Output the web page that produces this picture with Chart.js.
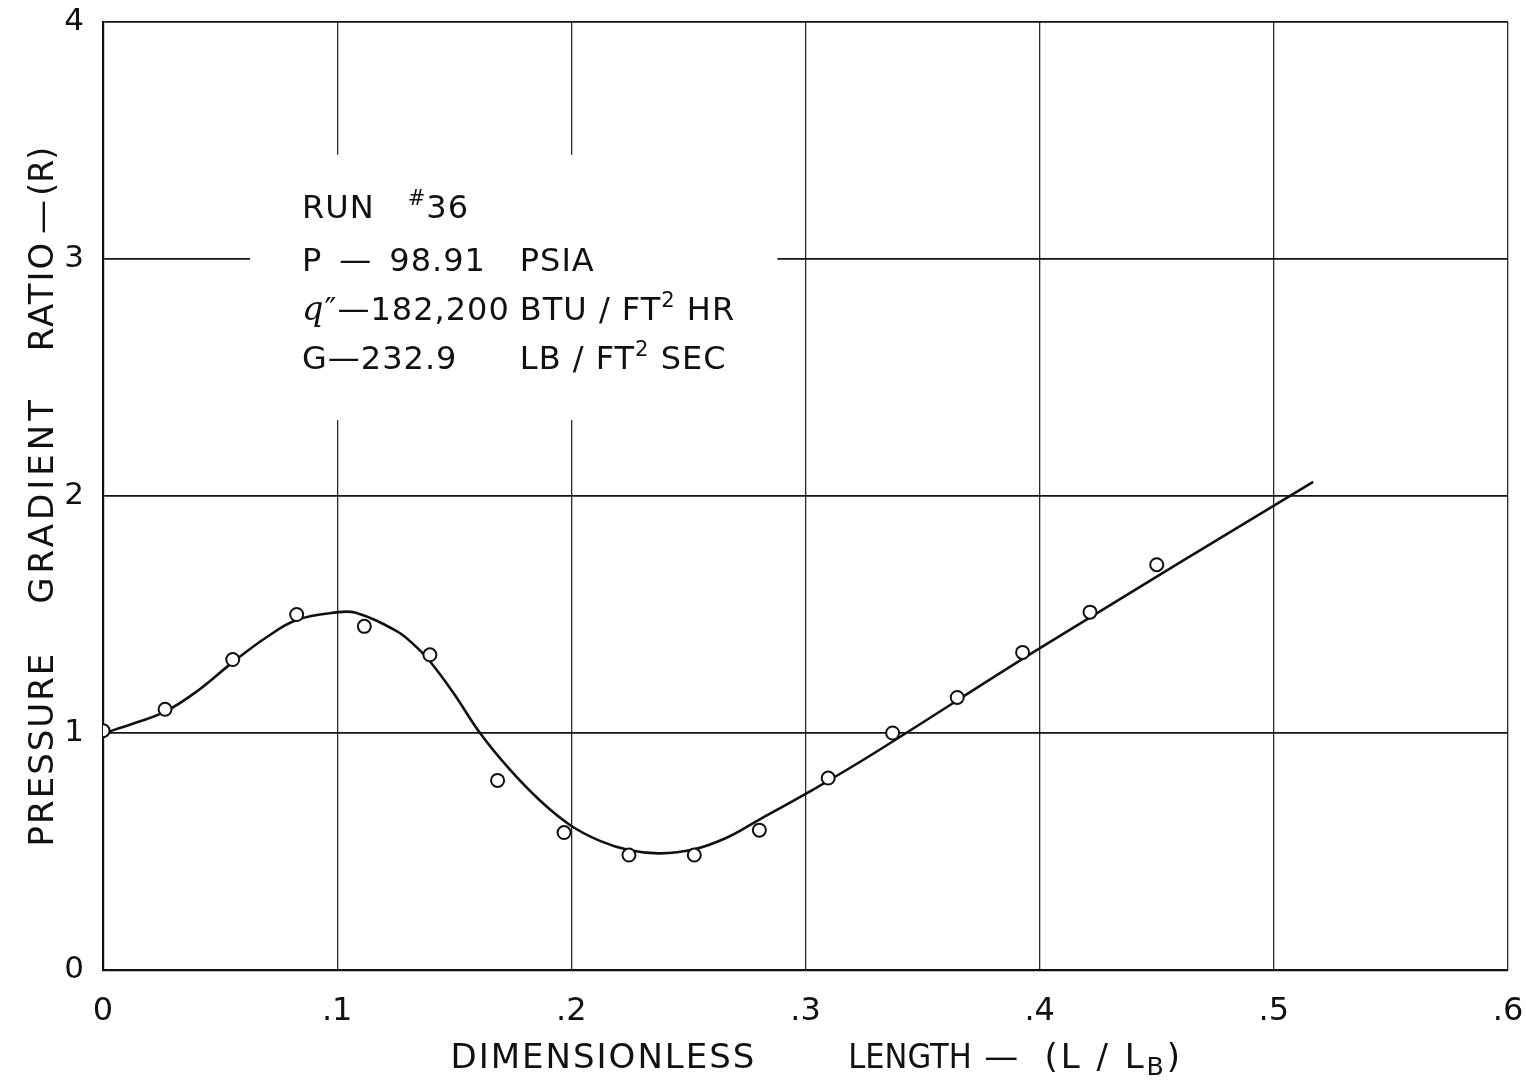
<!DOCTYPE html>
<html>
<head>
<meta charset="utf-8">
<script src="https://cdn.jsdelivr.net/npm/chart.js@4.4.1/dist/chart.umd.min.js"></script>
<style>
  html, body { margin: 0; padding: 0; background: #ffffff; }
  #wrap { width: 1526px; height: 1083px; }
  canvas { display: block; }
</style>
</head>
<body>
<div id="wrap"><canvas id="chart" width="1526" height="1083"></canvas></div>
<script>
// Run #36 measurements: dimensionless length (L/LB) against pressure gradient ratio (R)
const lengthRatio   = [0, 0.0265, 0.0554, 0.0827, 0.1116, 0.1396, 0.1685, 0.1969, 0.2246,
                       0.2525, 0.2803, 0.3097, 0.3372, 0.3648, 0.3927, 0.4215, 0.45];
const gradientRatio = [1.01, 1.10, 1.31, 1.50, 1.45, 1.33, 0.80, 0.58, 0.485,
                       0.485, 0.59, 0.81, 1.0, 1.15, 1.34, 1.51, 1.71];

// Faired curve drawn through the measurements
const curveLength   = [0, 0.013, 0.0265, 0.04, 0.0556, 0.07, 0.0827, 0.0998, 0.108, 0.1254,
                       0.1325, 0.1394, 0.1496, 0.161, 0.1738, 0.1866, 0.1994, 0.2122, 0.225,
                       0.2378, 0.252, 0.2663, 0.2805, 0.3004, 0.3277, 0.4008, 0.5168];
const curveGradient = [0.998, 1.04, 1.09, 1.175, 1.30, 1.405, 1.477, 1.509, 1.507, 1.43,
                       1.375, 1.305, 1.17, 1.0, 0.845, 0.715, 0.612, 0.545, 0.505,
                       0.492, 0.508, 0.558, 0.636, 0.745, 0.905, 1.362, 2.06];

// Axis ticks
const xTickValues = [0, 0.1, 0.2, 0.3, 0.4, 0.5, 0.6];
const xTickLabels = ['0', '.1', '.2', '.3', '.4', '.5', '.6'];
const yTickValues = [0, 1, 2, 3, 4];
const yTickLabels = ['0', '1', '2', '3', '4'];

// Text block: [text, style] runs; style 0 normal, 1 superscript, 2 subscript, 3 script letter
const infoLeft = [
  [['RUN\u2003', 0], ['#', 1], ['36', 0]],
  [['P\u2002\u2014\u200298.91', 0]],
  [['q', 3], ['\u2033', 0], ['\u2014182,200', 0]],
  [['G\u2014232.9', 0]]
];
const infoRight = [
  [],
  [['PSIA', 0]],
  [['BTU / FT', 0], ['2', 1], [' HR', 0]],
  [['LB / FT', 0], ['2', 1], [' SEC', 0]]
];

// Axis titles, lettered word by word; each word is centred on an axis value
const xTitleWords = [
  { runs: [['DIMENSIONLESS', 0]], at: 0.2133, size: 34, spacing: 2, condensed: false },
  { runs: [['LENGTH', 0]], at: 0.3446, size: 34, spacing: 0, condensed: true },
  { runs: [['\u2014', 0]], at: 0.3836, size: 34, spacing: 0, condensed: false },
  { runs: [['(L / L', 0], ['B', 2], [')', 0]], at: 0.4310, size: 34, spacing: 3, condensed: false }
];
const yTitleWords = [
  { runs: [['PRESSURE', 0]], at: 0.928, size: 34, spacing: 2, condensed: false },
  { runs: [['GRADIENT', 0]], at: 1.975, size: 34, spacing: 4, condensed: false },
  { runs: [['RATIO', 0]], at: 2.84, size: 34, spacing: 2, condensed: false },
  { runs: [['\u2014', 0]], at: 3.177, size: 34, spacing: 0, condensed: false },
  { runs: [['(R)', 0]], at: 3.37, size: 33, spacing: 0, condensed: false }
];

const FONT = '"DejaVu Sans", "Liberation Sans", sans-serif';
const FONT_NARROW = '"DejaVu Sans Condensed", "DejaVu Sans", sans-serif';
const INK = '#111111';

// Placement of the text block, in axis units
const infoLayout = { colX: [0.085, 0.178], rowY: [3.173, 2.949, 2.743, 2.536], size: 32, spacing: 1 };
// Region of the grid kept clear around the text block, in axis units
const clearBox = { x0: 0.0628, x1: 0.288, y0: 2.32, y1: 3.44 };

function runFont(s, size, family) {
  family = family || FONT;
  if (s === 1) return (size * 0.66) + 'px ' + family;
  if (s === 2) return (size * 0.74) + 'px ' + family;
  if (s === 3) return 'italic ' + (size * 1.05) + 'px "DejaVu Serif", serif';
  return size + 'px ' + family;
}

function drawRuns(ctx, x, y, runs, size, family) {
  let cx = x;
  for (const [t, s] of runs) {
    let dy = 0;
    if (s === 1) dy = -size * 0.40;
    if (s === 2) dy = size * 0.22;
    ctx.font = runFont(s, size, family);
    ctx.fillText(t, cx, y + dy);
    cx += ctx.measureText(t).width;
  }
  return cx - x;
}

function measureRuns(ctx, runs, size, family) {
  let w = 0;
  for (const [t, s] of runs) {
    ctx.font = runFont(s, size, family);
    w += ctx.measureText(t).width;
  }
  return w;
}

function drawWord(ctx, word, centre, baseline) {
  const family = word.condensed ? FONT_NARROW : FONT;
  ctx.letterSpacing = word.spacing + 'px';
  const w = measureRuns(ctx, word.runs, word.size, family) - word.spacing;
  drawRuns(ctx, centre - w / 2, baseline, word.runs, word.size, family);
}

const gridGap = {
  id: 'gridGap',
  beforeDatasetsDraw(chart) {
    const { ctx, scales: { x, y } } = chart;
    const l = x.getPixelForValue(clearBox.x0), r = x.getPixelForValue(clearBox.x1);
    const t = y.getPixelForValue(clearBox.y1), b = y.getPixelForValue(clearBox.y0);
    ctx.save();
    ctx.fillStyle = '#ffffff';
    ctx.fillRect(l, t, r - l, b - t);
    ctx.restore();
  }
};

const textLayer = {
  id: 'textLayer',
  afterDraw(chart) {
    const { ctx, scales: { x, y } } = chart;
    ctx.save();
    ctx.fillStyle = INK;
    ctx.textBaseline = 'alphabetic';
    ctx.textAlign = 'left';
    // parameter block
    ctx.letterSpacing = infoLayout.spacing + 'px';
    infoLeft.forEach((runs, i) => {
      const by = y.getPixelForValue(infoLayout.rowY[i]);
      drawRuns(ctx, x.getPixelForValue(infoLayout.colX[0]), by, runs, infoLayout.size);
      drawRuns(ctx, x.getPixelForValue(infoLayout.colX[1]), by, infoRight[i], infoLayout.size);
    });
    // x axis title
    xTitleWords.forEach(word => drawWord(ctx, word, x.getPixelForValue(word.at), 1068));
    // y axis title, lettered upward
    ctx.save();
    ctx.translate(53, 0);
    ctx.rotate(-Math.PI / 2);
    yTitleWords.forEach(word => drawWord(ctx, word, -y.getPixelForValue(word.at), 0));
    ctx.restore();
    ctx.restore();
  }
};

new Chart(document.getElementById('chart'), {
  type: 'scatter',
  data: {
    datasets: [
      {
        label: 'Measured',
        data: lengthRatio.map((v, i) => ({ x: v, y: gradientRatio[i] })),
        showLine: false,
        pointStyle: 'circle',
        pointRadius: 6.5,
        pointBorderWidth: 2,
        pointBackgroundColor: '#ffffff',
        pointBorderColor: INK,
        order: 0
      },
      {
        label: 'Faired curve',
        data: curveLength.map((v, i) => ({ x: v, y: curveGradient[i] })),
        showLine: true,
        tension: 0.4,
        borderColor: INK,
        borderWidth: 2.6,
        pointRadius: 0,
        fill: false,
        order: 1
      }
    ]
  },
  options: {
    responsive: false,
    animation: false,
    devicePixelRatio: 1,
    layout: { padding: { top: 22, right: 18, left: 0, bottom: 0 } },
    plugins: { legend: { display: false }, tooltip: { enabled: false } },
    scales: {
      x: {
        type: 'linear',
        min: 0, max: 0.6,
        afterFit(scale) { scale.height = 113; scale.paddingLeft = 0; scale.paddingRight = 0; },
        afterBuildTicks(scale) { scale.ticks = xTickValues.map(v => ({ value: v })); },
        ticks: {
          autoSkip: false,
          maxRotation: 0,
          padding: 22,
          color: INK,
          font: { family: FONT, size: 32 },
          callback: (v, i) => xTickLabels[i]
        },
        grid: { color: '#2a2a2a', lineWidth: 1.3, drawTicks: false },
        border: { display: true, color: INK, width: 2.2 }
      },
      y: {
        type: 'linear',
        min: 0, max: 4,
        afterFit(scale) { scale.width = 103; scale.paddingTop = 0; scale.paddingBottom = 0; },
        afterBuildTicks(scale) { scale.ticks = yTickValues.map(v => ({ value: v })); },
        ticks: {
          autoSkip: false,
          padding: 19,
          color: INK,
          font: { family: FONT, size: 31 },
          callback: (v, i) => yTickLabels[i]
        },
        grid: { color: '#151515', lineWidth: 1.8, drawTicks: false },
        border: { display: true, color: INK, width: 2.2 }
      }
    }
  },
  plugins: [gridGap, textLayer]
});
</script>
</body>
</html>
